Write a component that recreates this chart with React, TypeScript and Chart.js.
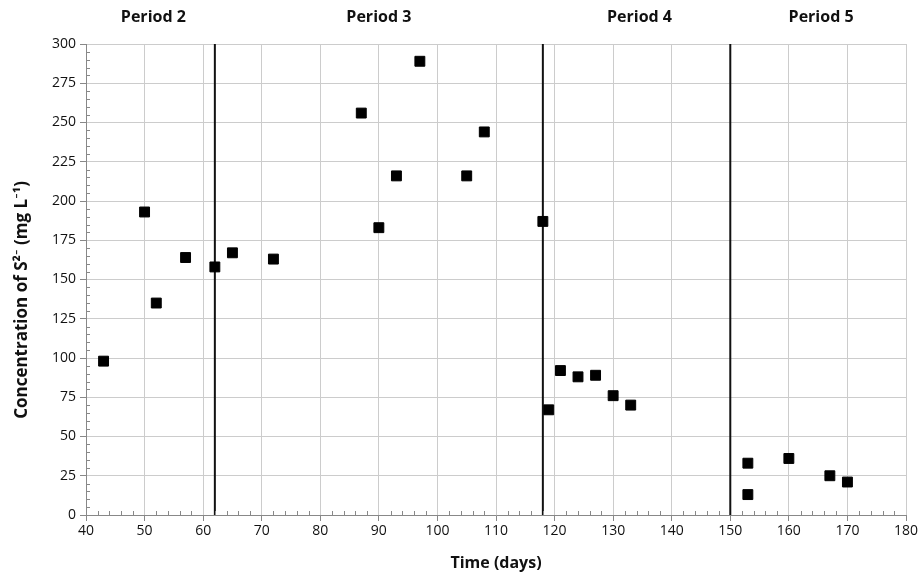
import React, { useEffect, useRef } from "react";
import { Chart, registerables } from "chart.js";

Chart.register(...registerables);

const days = [43, 50, 52, 57, 62, 65, 72, 87, 90, 93, 97, 105, 108, 118, 119, 121, 124, 127, 130, 133, 153, 153, 160, 167, 170];
const sulfide = [98, 193, 135, 164, 158, 167, 163, 256, 183, 216, 289, 216, 244, 187, 67, 92, 88, 89, 76, 70, 33, 13, 36, 25, 21];
const boundaries = [62, 118, 150];
const periodLabels = ["Period 2", "Period 3", "Period 4", "Period 5"];
const periodCenters = [51.5, 90, 134.5, 165.5];
const xTicks = [40, 50, 60, 70, 80, 90, 100, 110, 120, 130, 140, 150, 160, 170, 180];
const yTitle = "Concentration of S²⁻ (mg L⁻¹)";

const FONT = "'Open Sans', Lato, sans-serif";

const extras = {
  id: "extras",
  afterDraw(chart: any) {
    const { ctx, scales, chartArea } = chart;
    const x = scales.x;
    const y = scales.y;
    ctx.save();
    ctx.strokeStyle = "#888";
    ctx.lineWidth = 1;
    ctx.beginPath();
    for (let v = 40; v <= 180; v += 2) {
      if (v % 10 === 0) continue;
      const px = Math.round(x.getPixelForValue(v)) + 0.5;
      ctx.moveTo(px, chartArea.bottom);
      ctx.lineTo(px, chartArea.bottom - 4);
    }
    for (let v = 0; v <= 300; v += 5) {
      if (v % 25 === 0) continue;
      const py = Math.round(y.getPixelForValue(v)) + 0.5;
      ctx.moveTo(chartArea.left, py);
      ctx.lineTo(chartArea.left + 4, py);
    }
    ctx.stroke();
    ctx.fillStyle = "#111";
    ctx.font = `bold 16px ${FONT}`;
    ctx.textAlign = "center";
    ctx.textBaseline = "middle";
    periodLabels.forEach((t, i) => {
      ctx.fillText(t, x.getPixelForValue(periodCenters[i]), 17);
    });
    // y axis title
    ctx.translate(22, y.getPixelForValue(137));
    ctx.rotate(-Math.PI / 2);
    ctx.font = `bold 17px ${FONT}`;
    ctx.fillText(yTitle, 0, 0);
    ctx.restore();
  },
};

export default function App() {
  const ref = useRef<HTMLCanvasElement>(null);
  useEffect(() => {
    document.body.style.margin = "0";
    const lineSets = boundaries.map((b) => ({
      type: "line" as const,
      data: [
        { x: b, y: 0 },
        { x: b, y: 300 },
      ],
      borderColor: "#111",
      borderWidth: 2,
      pointRadius: 0,
      showLine: true,
      fill: false,
    }));
    const chart = new Chart(ref.current!, {
      type: "scatter",
      data: {
        datasets: [
          {
            data: days.map((d, i) => ({ x: d, y: sulfide[i] })),
            pointStyle: "rect",
            pointRadius: 7,
            backgroundColor: "#000",
            borderColor: "#000",
            borderWidth: 1,
          },
          ...lineSets,
        ] as any,
      },
      options: {
        animation: false,
        responsive: false,
        maintainAspectRatio: false,
        layout: { padding: { top: 44, right: 15, left: 0, bottom: 0 } },
        plugins: { legend: { display: false }, tooltip: { enabled: false } },
        scales: {
          x: {
            type: "linear",
            min: 40,
            max: 180,
            afterBuildTicks: (s: any) => {
              s.ticks = xTicks.map((v) => ({ value: v }));
            },
            afterFit: (s: any) => {
              s.height = 62;
            },
            grid: { color: "#cccccc", tickLength: 6, tickColor: "#888" },
            border: { color: "#888" },
            ticks: { color: "#111", font: { family: FONT, size: 14 }, padding: 2, maxRotation: 0 },
            title: {
              display: true,
              text: "Time (days)",
              color: "#111",
              font: { family: FONT, size: 16, weight: "bold" },
              padding: { top: 2 },
            },
          },
          y: {
            type: "linear",
            min: 0,
            max: 300,
            ticks: { stepSize: 25, color: "#111", font: { family: FONT, size: 14 }, padding: 4 },
            afterFit: (s: any) => {
              s.width = 86;
            },
            grid: { color: "#cccccc", tickLength: 6, tickColor: "#888" },
            border: { color: "#888" },
            title: { display: false },
          },
        },
      },
      plugins: [extras],
    });
    return () => chart.destroy();
  }, []);
  return (
    <div style={{ width: 921, height: 577, background: "#fff" }}>
      <canvas ref={ref} width={921} height={577} />
    </div>
  );
}
